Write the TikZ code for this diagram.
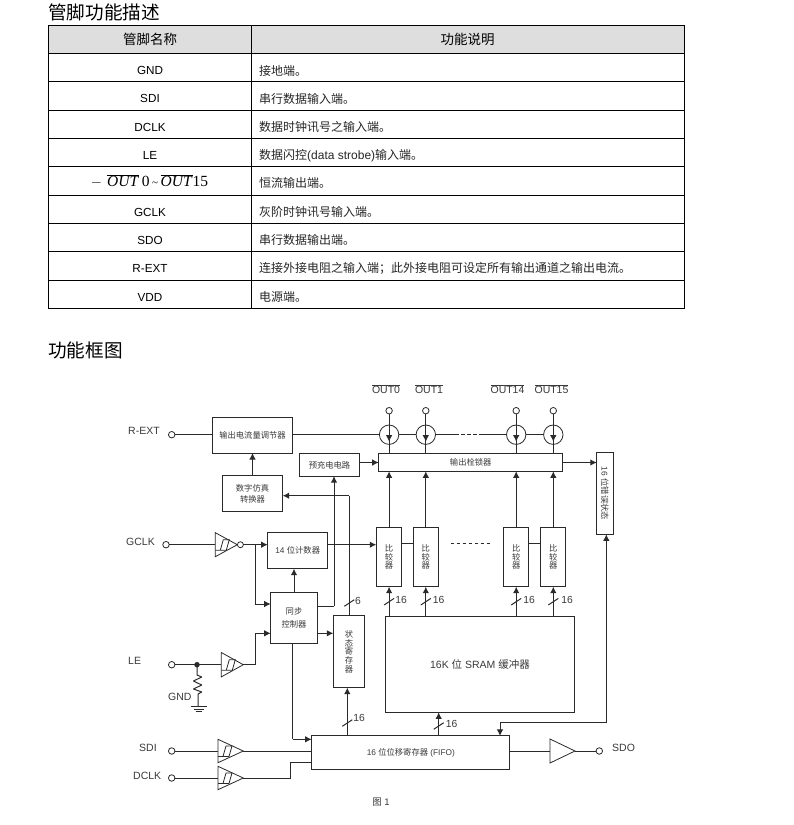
\documentclass[tikz,border=0pt]{standalone}
\usepackage{fontspec}
\setmainfont{Liberation Sans}
\newfontfamily\cjk{Noto Sans CJK SC}
\newfontfamily\tms{Liberation Serif}
\usetikzlibrary{arrows.meta,calc}
\newcommand{\zh}[1]{{\cjk #1}}
\newcommand{\fs}[1]{\fontsize{#1}{#1}\selectfont}
\definecolor{ink}{HTML}{2A2A2A}
\definecolor{txtg}{HTML}{3A3A3A}
\tikzset{
  wire/.style={draw=ink,line width=1pt},
  arr/.style={wire,-{Latex[length=6.5pt,width=6.5pt]}},
  bx/.style={draw=ink,line width=1pt,inner sep=0pt,outer sep=0pt,align=center,text=txtg,font=\fs{8.3}\cjk},
  lbl/.style={inner sep=0pt,text=txtg,font=\fs{10.5},text height=7.5pt,text depth=0pt},
  num/.style={inner sep=0pt,text=txtg,font=\fs{10.3},text height=7pt,text depth=0pt},
  pin/.style={circle,draw=ink,line width=0.8pt,fill=white,minimum size=6.5pt,inner sep=0pt,outer sep=0pt},
  csrc/.style={circle,draw=ink,line width=0.8pt,minimum size=19.4pt,inner sep=0pt,outer sep=0pt},
  gridl/.style={draw=black,line width=0.9pt},
  headc/.style={inner sep=0pt,font=\fs{13.5}\cjk,text height=11pt,text depth=2pt},
  namec/.style={inner sep=0pt,font=\fs{11.7},text height=8.5pt,text depth=0pt},
  descc/.style={inner sep=0pt,anchor=west,font=\fs{12},text height=10pt,text depth=2pt,text=black!85},
  titlec/.style={inner sep=0pt,anchor=west,font=\fs{18.6}\cjk,text height=15pt,text depth=3pt},
}
% buffer: name, left x, right x, centre y, half height
\newcommand{\bufnode}[5]{%
  \node[minimum width={#3-#2},minimum height={2*#5},inner sep=0pt,outer sep=0pt] (#1) at ({(#2+#3)/2},#4) {};
  \draw[wire,line width=0.8pt] (#1.north west) -- (#1.east) -- (#1.south west) -- cycle;}
\newcommand{\hyst}[1]{%
  \draw[wire,line width=0.8pt,shift={(#1.west)}] (0,5.5) -- (5,5.5) -- (8,-5) -- (14,-5) -- (11,5.5) -- (5,5.5);}
\newcommand{\busmark}[2]{\draw[wire,shift={(#1,#2)}] (-5,3.3) -- (5,-3.3);}
\begin{document}
\begin{tikzpicture}[x=1pt,y=-1pt]
\useasboundingbox[fill=white] (0,0) rectangle (793,825);
% headings
\node[titlec] (t1) at (48,13) {管脚功能描述};
\node[titlec] (t2) at (48,351) {功能框图};
% table
\fill[black!13] (48,25) rectangle (684,53);
\draw[gridl,line width=1pt] (48,25) rectangle (684,308);
\foreach \y in {53,81.5,110,138,166.5,195,223,251.5,280} \draw[gridl] (48,\y) -- (684,\y);
\draw[gridl] (251,25) -- (251,308);
\node[headc] (h1) at (150,40) {管脚名称};
\node[headc] (h2) at (467.5,40) {功能说明};
\node[namec] (n1) at (150,70) {GND};
\node[namec] (n2) at (150,98) {SDI};
\node[namec] (n3) at (150,127) {DCLK};
\node[namec] (n4) at (150,155) {LE};
\node[inner sep=0pt,font=\fs{15.5}\tms] (n5) at (149.5,181) {$-$\,\,$\overline{\mbox{\itshape OUT\kern1pt}}$\,0\,{\fs{11}\char`\~}\,$\overline{\mbox{\itshape OUT\kern1pt}}$15};
\node[namec] (n6) at (150,212) {GCLK};
\node[namec] (n7) at (150,240) {SDO};
\node[namec] (n8) at (150,268) {R-EXT};
\node[namec] (n9) at (150,297) {VDD};
\node[descc] (d1) at (259,71) {\zh{接地端。}};
\node[descc] (d2) at (259,99) {\zh{串行数据输入端。}};
\node[descc] (d3) at (259,127) {\zh{数据时钟讯号之输入端。}};
\node[descc] (d4) at (259,155) {\zh{数据闪控}(data strobe)\zh{输入端。}};
\node[descc] (d5) at (259,183) {\zh{恒流输出端。}};
\node[descc] (d6) at (259,212) {\zh{灰阶时钟讯号输入端。}};
\node[descc] (d7) at (259,240) {\zh{串行数据输出端。}};
\node[descc] (d8) at (259,268) {\zh{连接外接电阻之输入端；此外接电阻可设定所有输出通道之输出电流。}};
\node[descc] (d9) at (259,297) {\zh{电源端。}};
% blocks
\node[bx,minimum width=80.4pt,minimum height=36pt] (adj) at (252.5,435) {输出电流量调节器};
\node[bx,minimum width=59.6pt,minimum height=22.4pt] (pre) at (329.5,464.9) {预充电电路};
\node[bx,minimum width=60.4pt,minimum height=36pt] (dac) at (252.5,493.7) {数字仿真\\[3pt]转换器};
\node[bx,minimum width=60pt,minimum height=36pt] (cnt) at (297.7,550.7) {\fontspec{Liberation Sans}14 \zh{位计数器}};
\node[bx,minimum width=46.6pt,minimum height=51pt] (syn) at (294,617.8) {同步\\[5pt]控制器};
\node[bx,minimum width=31.4pt,minimum height=71.7pt] (sta) at (349,651.8) {状\\[0.6pt]态\\[0.6pt]寄\\[0.6pt]存\\[0.6pt]器};
\node[bx,minimum width=198.3pt,minimum height=33.3pt] (reg) at (410.8,752.6) {\fontspec{Liberation Sans}16 \zh{位位移寄存器} (FIFO)};
\node[bx,minimum width=189.4pt,minimum height=96.3pt,font=\fs{10.5}\cjk] (ram) at (480,664.2) {\fontspec{Liberation Sans}16K \zh{位} SRAM \zh{缓冲器}};
\node[bx,minimum width=184pt,minimum height=17.6pt] (lat) at (470.7,462.5) {输出栓锁器};
\node[bx,minimum width=16.3pt,minimum height=81.6pt] (err) at (604.9,493.5) {};
\node[inner sep=0pt,rotate=-90,text=txtg,font=\fs{8.3}] (errt) at (err.center) {16 \zh{位错误状态}};
\node[bx,minimum width=25.7pt,minimum height=59.4pt] (c0) at (389.1,557) {比\\[0.3pt]较\\[0.3pt]器};
\node[bx,minimum width=25pt,minimum height=59.4pt] (c1) at (425.8,557) {比\\[0.3pt]较\\[0.3pt]器};
\node[bx,minimum width=25pt,minimum height=59.4pt] (c2) at (516.2,557) {比\\[0.3pt]较\\[0.3pt]器};
\node[bx,minimum width=25pt,minimum height=59.4pt] (c3) at (553.3,557) {比\\[0.3pt]较\\[0.3pt]器};
% output current sources and pins
\node[csrc] (s0) at (389.1,434.7) {};
\node[csrc] (s1) at (425.8,434.7) {};
\node[csrc] (s2) at (516.2,434.7) {};
\node[csrc] (s3) at (553.3,434.7) {};
\node[pin] (o0) at (389.1,410.7) {};
\node[pin] (o1) at (425.8,410.7) {};
\node[pin] (o2) at (516.2,410.7) {};
\node[pin] (o3) at (553.3,410.7) {};
\node[lbl,text height=9pt] (l0) at (386,389) {$\overline{\mbox{OUT0}}$};
\node[lbl,text height=9pt] (l1) at (429,389) {$\overline{\mbox{OUT1}}$};
\node[lbl,text height=9pt] (l2) at (507.5,389) {$\overline{\mbox{OUT14}}$};
\node[lbl,text height=9pt] (l3) at (551.5,389) {$\overline{\mbox{OUT15}}$};
\foreach \i in {0,1,2,3} {
  \draw[arr] (o\i.south) -- ([yshift=-7pt]s\i.center);
  \draw[wire] (s\i.center) -- (s\i.center |- lat.north);
  \draw[arr] (c\i.north) -- (c\i.north |- lat.south);
  \draw[arr] (c\i.south |- ram.north) -- (c\i.south);
}
\draw[wire] (adj.east |- s0.west) -- (s0.west);
\draw[wire] (s0.east) -- (s1.west);
\draw[wire] (s2.east) -- (s3.west);
\coordinate (dl) at (455,434.7);
\coordinate (dr) at (480,434.7);
\draw[wire] (s1.east) -- (dl);
\draw[wire,dash pattern=on 3.5pt off 2.5pt] (dl) -- (dr);
\draw[wire] (dr) -- (s2.west);
\draw[wire] (c0.east |- 0,543.7) -- (c1.west |- 0,543.7);
\draw[wire] (c2.east |- 0,543.7) -- (c3.west |- 0,543.7);
\coordinate (cl) at (450.7,543.7);
\coordinate (cr) at (492,543.7);
\draw[wire,dash pattern=on 3.5pt off 2.5pt] (cl) -- (cr);
% pins and labels on left
\node[lbl,anchor=west] (lrext) at (128,431) {R-EXT};
\node[pin] (prext) at (171.7,434.7) {};
\draw[wire] (prext) -- (adj.west |- prext);
\draw[arr] (dac.north) -- (dac.north |- adj.south);
\node[lbl,anchor=west] (lgclk) at (126,542) {GCLK};
\node[pin] (pgclk) at (166,544.7) {};
\bufnode{bg}{215.3}{237.3}{544.7}{12}
\hyst{bg}
\node[pin,minimum size=6pt] (bub) at (240.4,544.7) {};
\draw[wire] (pgclk) -- (bg.west);
\draw[arr] (bub.east) -- (cnt.west |- bub.east);
\coordinate (jg) at (255.3,544.7);
\coordinate (jga) at (255.3,604);
\draw[wire] (jg) -- (jga);
\draw[arr] (jga) -- (syn.west |- jga);
\draw[arr] (cnt.east |- 0,544.7) -- (c0.west |- 0,544.7);
\draw[arr] (syn.north) -- (syn.north |- cnt.south);
\coordinate (a1) at (334,606);
\draw[wire] (syn.east |- a1) -- (a1);
\draw[arr] (a1) -- (a1 |- pre.south);
\coordinate (a2) at (349.3,495.7);
\draw[wire] (sta.north -| a2) -- (a2);
\draw[arr] (a2) -- (dac.east |- a2);
\draw[arr] (pre.east |- lat.west) -- (lat.west);
\draw[arr] (lat.east) -- (err.west |- lat.east);
\draw[arr] (syn.east |- 0,633.3) -- (sta.west |- 0,633.3);
\busmark{349.3}{603}
\node[num] (n6b) at (358,600.5) {6};
% LE
\node[lbl,anchor=west] (lle) at (128,661) {LE};
\node[pin] (ple) at (171.7,664.7) {};
\bufnode{bl}{221.3}{243.3}{664.7}{12.2}
\hyst{bl}
\draw[wire] (ple) -- (bl.west);
\node[circle,fill=ink,minimum size=5.5pt,inner sep=0pt] (dot) at (197,664.7) {};
\coordinate (jl) at (255.3,664.7);
\coordinate (jla) at (255.3,633.3);
\draw[wire] (bl.east) -- (jl) -- (jla);
\draw[arr] (jla) -- (syn.west |- jla);
\coordinate (g0) at (198,706.7);
\draw[wire,line join=round] (dot.center) -- (197,675) -- (201.7,677) -- (193.5,681) -- (201.7,685) -- (193.5,689) -- (201.7,692) -- (198,694) -- (g0);
\draw[wire] (190.7,706.7) -- (206.7,706.7);
\draw[wire] (193.7,709.3) -- (203.7,709.3);
\draw[wire] (195.7,711.7) -- (201.7,711.7);
\node[lbl,anchor=west] (lgnd) at (168,697) {GND};
% SDI, DCLK
\node[lbl,anchor=west] (lsdi) at (139,748) {SDI};
\node[pin] (psdi) at (171.7,751) {};
\bufnode{bs}{218}{243.3}{751}{11.7}
\hyst{bs}
\draw[wire] (psdi) -- (bs.west);
\draw[wire] (bs.east) -- (reg.west |- bs.east);
\node[lbl,anchor=west] (ldclk) at (133,776) {DCLK};
\node[pin] (pdclk) at (171.7,778) {};
\bufnode{bd}{218}{243.3}{778}{11.7}
\hyst{bd}
\draw[wire] (pdclk) -- (bd.west);
\coordinate (k1) at (290,778);
\coordinate (k2) at (290,762.7);
\draw[wire] (bd.east) -- (k1) -- (k2) -- (reg.west |- k2);
\coordinate (y1) at (292.7,739.3);
\draw[wire] (syn.south -| y1) -- (y1);
\draw[arr] (y1) -- (reg.west |- y1);
\draw[arr] (reg.north -| 347.3,0) -- (sta.south -| 347.3,0);
\busmark{347.3}{723}
\node[num] (n16s) at (359,718) {16};
\draw[arr] (reg.north -| 438.7,0) -- (ram.south -| 438.7,0);
\busmark{438.7}{726}
\node[num] (n16r) at (451.5,724) {16};
\foreach \i/\cx/\lx in {0/389.1/401,1/425.8/438.5,2/516.2/529,3/553.3/567} {
  \busmark{\cx}{601.7}
  \node[num] (nc\i) at (\lx,600) {16};
}
% SDO and error status
\bufnode{bo}{550}{575}{751}{12}
\node[pin] (psdo) at (599.3,751) {};
\draw[wire] (reg.east |- bo.west) -- (bo.west);
\draw[wire] (bo.east) -- (psdo);
\node[lbl,anchor=west] (lsdo) at (612,748) {SDO};
\coordinate (e1) at (606.3,722.7);
\coordinate (e2) at (500,722.7);
\draw[arr] (e1) -- (err.south -| e1);
\draw[wire] (e1) -- (e2);
\draw[arr] (e2) -- (reg.north -| e2);
\node[inner sep=0pt,text=txtg,font=\fs{9.5}] (fig) at (381,802) {\zh{图} 1};
\end{tikzpicture}
\end{document}
